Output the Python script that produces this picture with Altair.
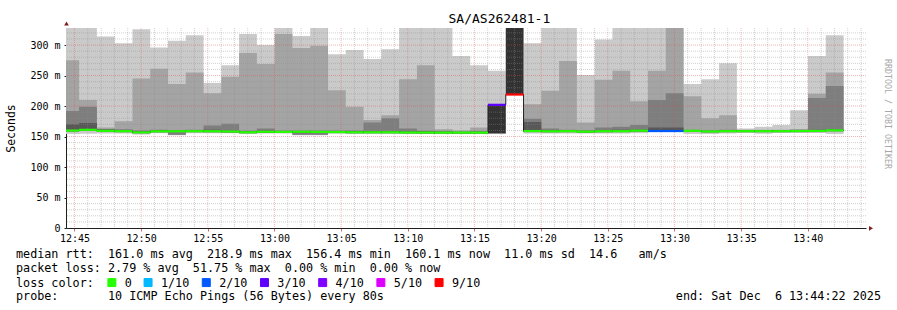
import altair as alt
import pandas as pd

# ---------------- data ----------------
PLOT_START = 44 + 22 / 60          # 12:44:22, minutes after 12:00
PLOT_END = 104 + 22 / 60           # 13:44:22
FIRST_BOUNDARY = 45 + 21 / 60      # first 80 s step boundary
STEP_MIN = 80 / 60
N_SEG = 44
Y_TOP = 328

SEG_START = [PLOT_START] + [FIRST_BOUNDARY + STEP_MIN * k for k in range(N_SEG - 1)]
SEG_END = [FIRST_BOUNDARY + STEP_MIN * k for k in range(N_SEG)]

# median rtt per step (ms)
MEDIAN = [159.8, 161.0, 159.3, 158.8, 156.8, 158.5, 158.6, 158.8, 158.7, 158.2, 157.0,
          157.8, 157.6, 157.8, 157.6, 157.4, 157.0, 157.0, 157.0, 156.6, 156.5, 156.4,
          156.5, 156.4, 202.0, 218.9, 159.0, 158.6, 158.8, 158.0, 158.7, 158.8, 159.6,
          159.0, 159.0, 159.3, 158.3, 158.8, 158.8, 158.8, 158.8, 159.0, 159.2, 160.1]

# loss class per step
LOSS = (["0"] * 24 + ["3/10", "9/10"] + ["0"] * 7 + ["2/10", "2/10"] + ["0"] * 9)

# smoke bands (outer -> inner), low and high edge per step (ms)
B1_HI = [340, 340, 314, 303, 326, 296, 307, 316, 238, 267, 318, 300, 335, 315, 335, 285,
         292, 277, 293, 335, 335, 335, 282, 267, 258, 218.9, 303, 335, 335, 251, 309, 335,
         335, 335, 345, 236, 244, 270, 163, 166, 169, 193, 282, 316]
B1_LO = [154, 154.5, 155, 155, 153.5, 155.5, 152, 155.5, 155.5, 155.5, 154.5, 155, 155,
         152, 152, 155, 154.5, 155, 155, 154.5, 154.5, 154.5, 154.5, 154.5, 155, 218.9,
         155, 155, 155, 155, 155, 155, 155.5, 157.5, 157.5, 154, 154, 155, 156, 154.5,
         156, 156, 156, 154]
B2_HI = [275, 210, 165, 175, 245, 261, 236, 255, 221, 248, 287, 269, 318, 295, 299, 226,
         199, 177, 185, 244, 267, 162, 160, 165, 155, 218.9, 203, 225, 274, 173, 243, 258,
         208, 258, 345, 216, 180, 185, 161, 161, 161, 162, 220, 255]
B2_LO = [157.8, 159.0, 157.3, 156.8, 154.8, 156.5, 152.5, 156.8, 156.7, 156.2, 155.0,
         155.8, 155.6, 152.5, 152.5, 155.4, 155.0, 155.0, 155.0, 154.6, 154.5, 154.4,
         154.5, 154.4, 155, 218.9, 157.0, 156.6, 156.8, 156.0, 156.7, 156.8, 157.6,
         157.5, 157.5, 157.3, 156.3, 156.8, 156.8, 156.8, 156.8, 157.0, 157.2, 158.1]
B3_HI = [192, 199, 162.5, 162, 160, 161, 160.5, 161, 168, 171, 159.5, 163, 160, 160, 160,
         160, 160, 173, 180, 163, 159.5, 159, 158.5, 159, 155, 218.9, 179, 163, 161, 160.5,
         165, 166, 169, 210, 221, 161, 160.5, 161, 160.5, 160.5, 160.5, 161, 213, 233]
B3_LO = [158.3, 159.5, 157.8, 157.3, 155.3, 157.0, 153.0, 157.3, 157.2, 156.7, 155.5,
         156.3, 156.1, 153.0, 153.0, 155.9, 155.5, 155.5, 155.5, 155.1, 155.0, 154.9,
         155.0, 154.9, 155, 218.9, 157.5, 157.1, 157.3, 156.5, 157.2, 157.3, 158.1,
         157.8, 157.8, 157.8, 156.8, 157.3, 157.3, 157.3, 157.3, 157.5, 157.7, 158.6]
B4_HI = [170, 172, 161.5, 160.5, 158.5, 160, 159.5, 160, 161, 160, 158.5, 160, 159, 159,
         159, 159, 159, 159, 159, 158.5, 158.5, 158, 157.5, 158, 155, 218.9, 174, 160.5,
         160, 159.5, 160.5, 161, 161.5, 165, 165, 160, 159.5, 160, 160, 160, 160, 160,
         161, 161.5]
B4_LO = [158.8, 160.0, 158.3, 157.8, 155.8, 157.5, 157.6, 157.8, 157.7, 157.2, 156.0,
         156.8, 156.6, 156.8, 156.6, 156.4, 156.0, 156.0, 156.0, 155.6, 155.5, 155.4,
         155.5, 155.4, 155, 218.9, 158.0, 157.6, 157.8, 157.0, 157.7, 157.8, 158.6,
         158.0, 158.0, 158.3, 157.3, 157.8, 157.8, 157.8, 157.8, 158.0, 158.2, 159.1]
B5_HI = [160.4, 161.6, 159.9, 159.4, 157.4, 159.1, 159.2, 159.4, 159.3, 158.8, 157.6,
         158.4, 158.2, 158.4, 158.2, 158.0, 157.6, 157.6, 157.6, 157.2, 157.1, 157.0,
         157.1, 157.0, 202.0, 400, 159.6, 159.2, 159.4, 158.6, 159.3, 159.4, 160.2,
         159.6, 159.6, 159.9, 158.9, 159.4, 159.4, 159.4, 159.4, 159.6, 159.8, 160.7]
B5_LO = [159.3, 160.5, 158.8, 158.3, 156.3, 158.0, 158.1, 158.3, 158.2, 157.7, 156.5,
         157.3, 157.1, 157.3, 157.1, 156.9, 156.5, 156.5, 156.5, 156.1, 156.0, 155.9,
         156.0, 155.9, 155.0, 218.9, 158.5, 158.1, 158.3, 157.5, 158.2, 158.3, 159.1,
         158.5, 158.5, 158.8, 157.8, 158.3, 158.3, 158.3, 158.3, 158.5, 158.7, 159.6]

LOSS_LABELS = ["0", "1/10", "2/10", "3/10", "4/10", "5/10", "9/10"]
LOSS_COLORS = ["#26ff00", "#00b8ff", "#0059ff", "#5e00ff", "#7e00ff", "#dd00ff", "#ff0000"]
SMOKE_COLORS = ["#cacaca", "#a4a4a4", "#7e7e7e", "#585858", "#323232"]

X_TICKS = [45, 50, 55, 60, 65, 70, 75, 80, 85, 90, 95, 100]
Y_TICKS = [0, 50, 100, 150, 200, 250, 300]
MINOR_X = [m for m in range(45, 105) if m % 5]
MAJOR_X = [m for m in range(45, 105) if m % 5 == 0]
MINOR_Y = [v for v in range(10, Y_TOP, 10) if v % 50]
MAJOR_Y = [v for v in range(50, Y_TOP, 50)]

TITLE = "SA/AS262481-1"
WATERMARK = "RRDTOOL / TOBI OETIKER"
LINE_RTT = "median rtt:  161.0 ms avg  218.9 ms max  156.4 ms min  160.1 ms now  11.0 ms sd  14.6   am/s"
LINE_LOSS = "packet loss: 2.79 % avg  51.75 % max  0.00 % min  0.00 % now"
LINE_PROBE = "probe:       10 ICMP Echo Pings (56 Bytes) every 80s"
LINE_END = "end: Sat Dec  6 13:44:22 2025"

MONO = "DejaVu Sans Mono"
FS = 11.75


def nb(s):
    return s.replace(" ", "\u00a0")


# ---------------- chart ----------------
xs = alt.Scale(domain=[PLOT_START, PLOT_END], nice=False, zero=False)
ys = alt.Scale(domain=[0, Y_TOP], nice=False)

x_axis = alt.Axis(values=X_TICKS, title="", grid=False,
                  labelExpr="format(floor(datum.value / 60) + 12, 'd') + ':' + format(datum.value % 60, '02d')",
                  tickSize=3, tickColor="#d86a6a", domainColor="#1f1f1f",
                  labelFont=MONO, labelFontSize=10, labelColor="black", labelPadding=2,
                  labelFlush=False, labelOverlap=False)
y_axis = alt.Axis(values=Y_TICKS, title="Seconds", grid=False,
                  labelExpr="datum.value == 0 ? '0' : datum.value + ' m'",
                  tickSize=2, tickColor="#1f1f1f", domainColor="#1f1f1f",
                  labelFont=MONO, labelFontSize=10, labelColor="black", labelPadding=4,
                  titleFont=MONO, titleFontSize=11.5, titleFontWeight="normal", titleColor="black",
                  titleAngle=270, titleX=-55, titleY=100, titleAlign="center", titleBaseline="middle")


def X(field):
    return alt.X(field, scale=xs, axis=x_axis)


def Y(field):
    return alt.Y(field, scale=ys, axis=y_axis)


def step_frame(lo, hi):
    return pd.DataFrame({"t": SEG_START + [SEG_END[-1]],
                         "lo": list(lo) + [lo[-1]],
                         "hi": list(hi) + [hi[-1]]})


seg_df = pd.DataFrame({"t": SEG_START, "t1": SEG_END, "lo": MEDIAN, "loss": LOSS})
loss_scale = alt.Scale(domain=LOSS_LABELS, range=LOSS_COLORS)
loss_legend = alt.Legend(title="loss color:", orient="none", legendX=-50, legendY=248.5,
                         direction="horizontal", titleOrient="left",
                         titleFont=MONO, titleFontSize=FS, titleFontWeight="normal",
                         titleColor="black", titlePadding=12,
                         labelFont=MONO, labelFontSize=FS, labelColor="black",
                         labelOffset=7, columnPadding=9.2,
                         symbolType="square", symbolSize=64, symbolStrokeColor="black",
                         symbolStrokeWidth=1, symbolOpacity=1, padding=0)

layers = []
# legend carrier: filled squares, clipped away (drawn first so the legend takes its filled symbols)
layers.append(alt.Chart(seg_df).mark_square(filled=True, opacity=1, size=64, stroke="black", strokeWidth=1, clip=True)
              .encode(x=alt.value(-500), y=alt.value(-500),
                      color=alt.Color("loss:N", scale=loss_scale, legend=loss_legend)))

bands = [(B1_LO, B1_HI), (B2_LO, B2_HI), (B3_LO, B3_HI), (B4_LO, B4_HI), (B5_LO, B5_HI)]
for i, (lo, hi) in enumerate(bands):
    layers.append(
        alt.Chart(step_frame(lo, hi)).mark_area(interpolate="step-after", color=SMOKE_COLORS[i], clip=True)
        .encode(x=X("t:Q"), y=Y("lo:Q"), y2="hi:Q")
    )

# grid (drawn over the smoke, as rrdtool does)
for vals, col, op in [(MINOR_X, "#8f8f8f", 0.42), (MAJOR_X, "#de4f4f", 0.38)]:
    layers.append(alt.Chart(pd.DataFrame({"t": vals})).mark_rule(color=col, opacity=op, strokeWidth=1, strokeDash=[1, 1])
                  .encode(x=X("t:Q")))
for vals, col, op in [(MINOR_Y, "#8f8f8f", 0.42), (MAJOR_Y, "#de4f4f", 0.42)]:
    layers.append(alt.Chart(pd.DataFrame({"lo": vals})).mark_rule(color=col, opacity=op, strokeWidth=1, strokeDash=[1, 1])
                  .encode(y=Y("lo:Q")))

# median: thin dark step line, then loss coloured segments
med_df = pd.DataFrame({"t": SEG_START + [SEG_END[-1]], "lo": MEDIAN + [MEDIAN[-1]]})
layers.append(alt.Chart(med_df).mark_line(interpolate="step-after", color="#202020", strokeWidth=1, clip=True)
              .encode(x=X("t:Q"), y=Y("lo:Q")))

layers.append(alt.Chart(seg_df).mark_rule(strokeWidth=2.2, clip=True)
              .encode(x=X("t:Q"), x2="t1:Q", y=Y("lo:Q"),
                      color=alt.Color("loss:N", scale=loss_scale, legend=loss_legend)))


def text_layer(s, x, y, size=FS, align="left", angle=0, color="black", baseline="middle"):
    kw = dict(font=MONO, fontSize=size, align=align, baseline=baseline, color=color)
    if angle:
        kw["angle"] = angle
    return (alt.Chart(pd.DataFrame({"s": [nb(s)]})).mark_text(**kw)
            .encode(text="s:N", x=alt.value(x), y=alt.value(y)))


layers.append(text_layer(TITLE, 382.5, -9, size=13))
layers.append(text_layer(WATERMARK, 821, 31, size=8.3, angle=90, color="#a8a8a8"))
layers.append(text_layer(LINE_RTT, -50, 226.3))
layers.append(text_layer(LINE_LOSS, -50, 240.3))
layers.append(text_layer(LINE_PROBE, -50, 268.3))
layers.append(text_layer(LINE_END, 815, 268.3, align="right"))

# axis arrows
one = pd.DataFrame({"a": [0]})
layers.append(alt.Chart(one).mark_point(shape="triangle-up", filled=True, size=22, color="#801f1f", opacity=1)
              .encode(x=alt.value(0.5), y=alt.value(-4.5)))
layers.append(alt.Chart(one).mark_point(shape="triangle-right", filled=True, size=22, color="#801f1f", opacity=1)
              .encode(x=alt.value(805), y=alt.value(200.3)))

chart = (alt.layer(*layers)
         .properties(width=800, height=200,
                     padding={"left": 66, "top": 28, "right": 31, "bottom": 82},
                     autosize=alt.AutoSizeParams(type="none"),
                     background="white")
         .configure_view(stroke="transparent"))

chart.save("out.html", embed_options={"renderer": "svg", "actions": False})
